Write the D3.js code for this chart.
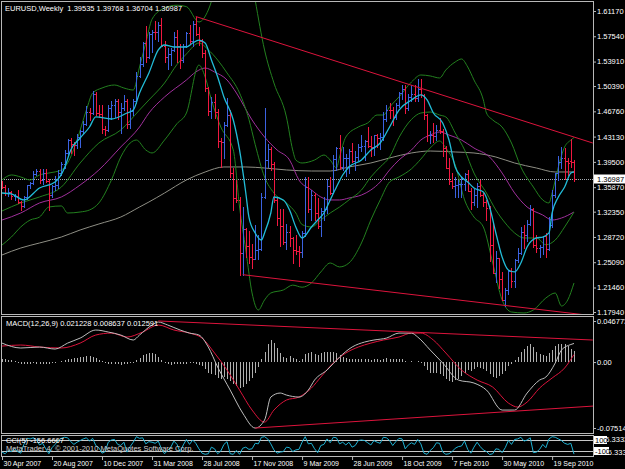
<!DOCTYPE html>
<html>
<head>
<meta charset="utf-8">
<script src="https://cdn.jsdelivr.net/npm/d3@7"></script>
<style>
html, body { margin: 0; background: #000; }
svg { display: block; font-family: "Liberation Sans", Arial, sans-serif; }
</style>
</head>
<body>
<div id="chart"></div>
<script>
var width = 625;
var height = 469;

// weekly EURUSD bars, 30 Apr 2007 .. 8 Nov 2010 (184 bars)
var opens = [1.3650,1.3590,1.3510,1.3520,1.3455,1.3465,1.3370,1.3315,1.3445,1.3620,
1.3640,1.3780,1.3820,1.3690,1.3790,1.3680,1.3480,1.3610,1.3620,1.3790,
1.3920,1.4080,1.4260,1.4200,1.4190,1.4310,1.4400,1.4500,1.4670,1.4650,
1.4920,1.4650,1.4640,1.4420,1.4410,1.4720,1.4760,1.4830,1.4660,1.4720,
1.4820,1.4500,1.4680,1.4830,1.5185,1.5360,1.5660,1.5450,1.5790,1.5820,
1.5810,1.5920,1.5620,1.5450,1.5500,1.5560,1.5750,1.5620,1.5420,1.5610,
1.5800,1.5680,1.5930,1.5790,1.5690,1.5520,1.5010,1.4680,1.4810,1.4660,
1.4250,1.4240,1.4480,1.4630,1.3790,1.3430,1.3400,1.2640,1.2980,1.2740,
1.2590,1.2560,1.2690,1.2700,1.3440,1.3970,1.4130,1.3920,1.3400,1.3140,
1.3030,1.2800,1.2950,1.2860,1.2690,1.2670,1.2660,1.2930,1.3590,1.3280,
1.3480,1.3220,1.3030,1.3240,1.3280,1.3600,1.3510,1.3990,1.4150,1.3870,
1.4000,1.4000,1.4110,1.3960,1.4020,1.4170,1.4180,1.4250,1.4180,1.4170,
1.4330,1.4300,1.4310,1.4560,1.4700,1.4690,1.4590,1.4760,1.4940,1.5000,
1.4720,1.4880,1.4930,1.4870,1.5000,1.4910,1.4620,1.4340,1.4340,1.4320,
1.4410,1.4390,1.4150,1.3860,1.3680,1.3610,1.3620,1.3630,1.3630,1.3770,
1.3530,1.3380,1.3480,1.3600,1.3480,1.3370,1.3290,1.2750,1.2360,1.2570,
1.2270,1.1970,1.2110,1.2390,1.2240,1.2540,1.2640,1.2940,1.2900,1.3060,
1.3280,1.2750,1.2710,1.2730,1.2880,1.2700,1.3050,1.3480,1.3790,1.3950,
1.4000,1.3960,1.3960,1.39535];
var highs = [1.3680,1.3615,1.3580,1.3525,1.3490,1.3550,1.3390,1.3460,1.3620,1.3660,
1.3820,1.3850,1.3850,1.3850,1.3850,1.3700,1.3620,1.3750,1.3830,1.3950,
1.4120,1.4280,1.4290,1.4230,1.4350,1.4410,1.4530,1.4750,1.4730,1.4967,
1.4960,1.4760,1.4760,1.4460,1.4760,1.4830,1.4860,1.4860,1.4790,1.4910,
1.4860,1.4720,1.4850,1.5240,1.5460,1.5670,1.5904,1.5820,1.5850,1.5970,
1.5960,1.6019,1.5690,1.5590,1.5590,1.5820,1.5840,1.5640,1.5650,1.5810,
1.5910,1.5970,1.6038,1.5890,1.5720,1.5560,1.5020,1.4880,1.4920,1.4710,
1.4290,1.4520,1.4865,1.4690,1.3860,1.3690,1.3450,1.3300,1.3000,1.2960,
1.2770,1.3040,1.2900,1.3500,1.4720,1.4200,1.4160,1.3950,1.3450,1.3280,
1.3270,1.3060,1.3030,1.2870,1.2900,1.2740,1.2960,1.3740,1.3740,1.3550,
1.3510,1.3430,1.3290,1.3440,1.3710,1.3740,1.4050,1.4170,1.4340,1.4170,
1.4060,1.4130,1.4220,1.4100,1.4210,1.4330,1.4270,1.4450,1.4320,1.4340,
1.4350,1.4360,1.4660,1.4770,1.4800,1.4740,1.4800,1.4960,1.5060,1.5060,
1.4920,1.5050,1.5060,1.5144,1.5140,1.4930,1.4640,1.4400,1.4510,1.4480,
1.4580,1.4420,1.4180,1.4010,1.3790,1.3740,1.3690,1.3740,1.3790,1.3830,
1.3570,1.3560,1.3650,1.3690,1.3500,1.3400,1.3320,1.3090,1.2670,1.2570,
1.2370,1.2140,1.2400,1.2420,1.2560,1.2720,1.3020,1.3040,1.3110,1.3330,
1.3290,1.2900,1.2760,1.2890,1.2930,1.3160,1.3550,1.3790,1.4030,1.4160,
1.4150,1.4000,1.4281,1.39768];
var lows = [1.3580,1.3480,1.3460,1.3420,1.3400,1.3360,1.3260,1.3300,1.3420,1.3570,
1.3630,1.3760,1.3640,1.3630,1.3660,1.3265,1.3440,1.3550,1.3580,1.3760,
1.3860,1.4060,1.4080,1.4050,1.4150,1.4170,1.4360,1.4480,1.4550,1.4640,
1.4620,1.4590,1.4370,1.4340,1.4400,1.4560,1.4600,1.4570,1.4365,1.4700,
1.4440,1.4440,1.4630,1.4800,1.5170,1.5330,1.5380,1.5440,1.5530,1.5710,
1.5680,1.5630,1.5380,1.5290,1.5340,1.5540,1.5380,1.5300,1.5390,1.5600,
1.5650,1.5620,1.5770,1.5630,1.5450,1.4970,1.4630,1.4580,1.4580,1.4170,
1.3880,1.4000,1.4460,1.3730,1.3260,1.3370,1.2330,1.2330,1.2590,1.2500,
1.2420,1.2550,1.2550,1.2690,1.3430,1.3870,1.3830,1.3380,1.3050,1.2740,
1.2770,1.2700,1.2740,1.2500,1.2620,1.2457,1.2580,1.2890,1.3230,1.3120,
1.3120,1.3000,1.2890,1.3110,1.3220,1.3490,1.3500,1.3830,1.3850,1.3840,
1.3750,1.3790,1.3950,1.3830,1.3970,1.4110,1.3980,1.4160,1.4040,1.4050,
1.4160,1.4140,1.4260,1.4530,1.4580,1.4480,1.4560,1.4740,1.4850,1.4650,
1.4690,1.4830,1.4830,1.4830,1.4880,1.4570,1.4250,1.4220,1.4240,1.4260,
1.4370,1.4030,1.3860,1.3630,1.3580,1.3440,1.3450,1.3440,1.3550,1.3530,
1.3270,1.3330,1.3300,1.3460,1.3310,1.3110,1.2530,1.2350,1.2230,1.2140,
1.1960,1.1876,1.2050,1.2150,1.2150,1.2510,1.2620,1.2710,1.2810,1.3050,
1.2730,1.2660,1.2590,1.2630,1.2590,1.2690,1.3020,1.3450,1.3690,1.3860,
1.3700,1.3760,1.3880,1.36704];
var closes = [1.3590,1.3510,1.3520,1.3455,1.3465,1.3370,1.3315,1.3445,1.3620,1.3640,
1.3780,1.3820,1.3690,1.3790,1.3680,1.3480,1.3610,1.3620,1.3790,1.3920,
1.4080,1.4260,1.4200,1.4190,1.4310,1.4400,1.4500,1.4670,1.4650,1.4920,
1.4650,1.4640,1.4420,1.4410,1.4720,1.4760,1.4830,1.4660,1.4720,1.4820,
1.4500,1.4680,1.4830,1.5185,1.5360,1.5660,1.5450,1.5790,1.5820,1.5810,
1.5920,1.5620,1.5450,1.5500,1.5560,1.5750,1.5620,1.5420,1.5610,1.5800,
1.5680,1.5930,1.5790,1.5690,1.5520,1.5010,1.4680,1.4810,1.4660,1.4250,
1.4240,1.4480,1.4630,1.3790,1.3430,1.3400,1.2640,1.2980,1.2740,1.2590,
1.2550,1.2690,1.2700,1.3440,1.3970,1.4130,1.3920,1.3400,1.3140,1.3030,
1.2800,1.2950,1.2860,1.2690,1.2670,1.2660,1.2930,1.3590,1.3280,1.3480,
1.3220,1.3030,1.3240,1.3280,1.3600,1.3510,1.3990,1.4150,1.3870,1.4000,
1.4000,1.4110,1.3960,1.4020,1.4170,1.4180,1.4250,1.4180,1.4170,1.4330,
1.4300,1.4310,1.4560,1.4700,1.4690,1.4590,1.4760,1.4940,1.5000,1.4720,
1.4880,1.4930,1.4870,1.5000,1.4910,1.4620,1.4340,1.4340,1.4320,1.4410,
1.4390,1.4150,1.3860,1.3680,1.3610,1.3620,1.3630,1.3630,1.3770,1.3530,
1.3380,1.3480,1.3600,1.3480,1.3370,1.3290,1.2750,1.2360,1.2570,1.2270,
1.1970,1.2110,1.2390,1.2240,1.2540,1.2640,1.2940,1.2900,1.3060,1.3280,
1.2750,1.2710,1.2730,1.2880,1.2700,1.3050,1.3480,1.3790,1.3950,1.4000,
1.3960,1.3940,1.39535,1.36987];

// indicator lines: [bar index, value]
var fastMA = [[0,1.3503],[3,1.3489],[7,1.3403],[12,1.3575],[17,1.3661],[20,1.3862],[22,1.4121],[25,1.4293],
[28,1.4451],[30,1.4595],[35,1.4566],[40,1.4652],[42,1.4695],[44,1.4939],[47,1.5227],[50,1.5557],[52,1.5629],
[55,1.5600],[59,1.5600],[61,1.5657],[63,1.5700],[65,1.5657],[67,1.5413],[69,1.5169],[71,1.4882],[74,1.4552],
[76,1.4121],[78,1.3503],[79,1.3158],[81,1.2929],[83,1.2828],[84,1.2929],[86,1.3216],[87,1.3446],[90,1.3403],
[92,1.3259],[94,1.3015],[96,1.2857],[99,1.3015],[101,1.3115],[103,1.3216],[105,1.3403],[107,1.3589],[109,1.3762],
[111,1.3877],[115,1.3977],[118,1.4121],[121,1.4221],[124,1.4451],[127,1.4695],[131,1.4839],[134,1.4911],
[136,1.4839],[138,1.4652],[141,1.4509],[143,1.4264],[145,1.3877],[147,1.3733],[149,1.3661],[151,1.3575],
[154,1.3518],[156,1.3302],[158,1.2929],[160,1.2584],[162,1.2397],[164,1.2369],[166,1.2498],[168,1.2728],
[171,1.2857],[173,1.2871],[175,1.2929],[176,1.3216],[178,1.3446],[180,1.3589],[182,1.3790],[183,1.3805]];
var bandUpper = [[0,1.3690],[3,1.3762],[6,1.3733],[9,1.3690],[12,1.3762],[15,1.3790],[19,1.3834],[21,1.3934],
[24,1.4264],[27,1.4695],[29,1.4939],[32,1.5011],[36,1.5054],[39,1.5011],[42,1.4982],[44,1.5313],[46,1.5657],
[48,1.6000],[52,1.6160],[56,1.6200],[59,1.6180],[63,1.5959],[66,1.6131],[68,1.6400],[71,1.6900],[75,1.7300],
[78,1.7100],[81,1.6275],[84,1.5557],[87,1.5083],[91,1.4595],[93,1.4121],[94,1.3977],[96,1.3934],[100,1.3977],
[103,1.4049],[105,1.3977],[107,1.3862],[108,1.4020],[110,1.4307],[114,1.4451],[117,1.4509],[120,1.4623],
[122,1.4623],[124,1.4738],[127,1.4882],[131,1.5097],[134,1.5198],[137,1.5184],[140,1.5155],[142,1.5270],
[145,1.5385],[147,1.5428],[149,1.5313],[151,1.5126],[154,1.4839],[155,1.4652],[157,1.4552],[160,1.4451],
[163,1.4221],[166,1.3877],[170,1.3589],[173,1.3403],[175,1.3360],[176,1.3503],[178,1.3877],[180,1.4164],
[182,1.4264],[183,1.4300]];
var bandMiddle = [[0,1.3245],[6,1.3360],[12,1.3446],[19,1.3589],[25,1.3934],[31,1.4221],[38,1.4408],[44,1.4695],
[47,1.4839],[52,1.5083],[56,1.5350],[59,1.5500],[63,1.5657],[66,1.5560],[69,1.5413],[72,1.5227],[76,1.4939],
[79,1.4560],[81,1.4200],[84,1.3733],[87,1.3503],[91,1.3360],[94,1.3216],[96,1.3050],[99,1.3015],[102,1.3115],
[105,1.3216],[108,1.3302],[111,1.3403],[115,1.3546],[118,1.3733],[121,1.3877],[124,1.4020],[127,1.4300],
[131,1.4560],[134,1.4652],[137,1.4666],[140,1.4623],[142,1.4595],[145,1.4365],[148,1.4121],[151,1.3790],
[155,1.3503],[158,1.3259],[161,1.3072],[164,1.2929],[167,1.2857],[171,1.2857],[174,1.2760],[177,1.2828],
[180,1.3015],[183,1.3230]];
var bandLower = [[0,1.2756],[3,1.2871],[6,1.3015],[9,1.3115],[12,1.3158],[15,1.3302],[19,1.3317],[21,1.3216],
[25,1.3230],[28,1.3259],[31,1.3360],[35,1.3690],[38,1.4020],[41,1.4221],[43,1.4264],[46,1.4121],[48,1.4078],
[52,1.4264],[56,1.4500],[59,1.4652],[63,1.5341],[65,1.5169],[67,1.4839],[70,1.4451],[74,1.4121],[76,1.3302],
[78,1.2685],[80,1.2067],[82,1.1823],[84,1.1967],[86,1.2067],[90,1.2110],[93,1.2180],[96,1.2150],[99,1.2211],
[102,1.2369],[105,1.2498],[108,1.2441],[111,1.2498],[115,1.2785],[118,1.3115],[121,1.3403],[124,1.3661],
[127,1.3733],[131,1.3850],[134,1.3990],[137,1.4150],[140,1.4250],[142,1.4150],[145,1.3905],[148,1.3403],
[151,1.3158],[154,1.3015],[157,1.2498],[160,1.1967],[163,1.1794],[167,1.1780],[170,1.1823],[174,1.1995],
[177,1.2067],[179,1.1880],[181,1.1967],[183,1.2211]];
var midMA = [[0,1.3115],[6,1.3216],[12,1.3360],[19,1.3446],[25,1.3618],[31,1.3834],[38,1.4164],[44,1.4451],
[47,1.4652],[52,1.4882],[59,1.5126],[62,1.5241],[65,1.5298],[68,1.5241],[72,1.5126],[75,1.4939],[80,1.4552],
[84,1.4307],[88,1.4121],[92,1.3977],[95,1.3690],[99,1.3546],[102,1.3446],[105,1.3403],[108,1.3403],
[111,1.3431],[115,1.3474],[118,1.3546],[121,1.3661],[124,1.3834],[127,1.3977],[131,1.4121],[134,1.4264],
[137,1.4336],[140,1.4379],[143,1.4336],[147,1.4264],[151,1.4149],[156,1.4020],[160,1.3790],[164,1.3503],
[168,1.3302],[173,1.3187],[176,1.3115],[179,1.3144],[183,1.3230]];
var slowMA = [[0,1.2613],[6,1.2713],[12,1.2785],[19,1.2871],[25,1.2972],[31,1.3058],[38,1.3158],[44,1.3302],
[47,1.3374],[52,1.3503],[59,1.3690],[65,1.3805],[71,1.3877],[78,1.3877],[84,1.3862],[91,1.3834],[99,1.3819],
[105,1.3819],[111,1.3877],[118,1.3934],[124,1.4006],[131,1.4078],[137,1.4106],[145,1.4092],[151,1.4078],
[158,1.4020],[164,1.3934],[171,1.3862],[177,1.3805],[183,1.3805]];
var trendUpper = [[62,1.6038],[189,1.4221]];
var trendLower = [[77,1.2330],[189,1.1740]];

var macdMain = [[0,0.0216],[6,0.0160],[12,0.0171],[17,0.0148],[21,0.0216],[25,0.0273],[30,0.0365],[34,0.0342],
[38,0.0308],[42,0.0251],[44,0.0308],[48,0.0422],[50,0.0456],[53,0.0422],[57,0.0365],[60,0.0330],[63,0.0308],
[66,0.0171],[69,-0.0057],[73,-0.0319],[77,-0.0581],[81,-0.0752],[84,-0.0661],[86,-0.0399],[89,-0.0353],
[91,-0.0376],[95,-0.0399],[98,-0.0319],[100,-0.0205],[104,-0.0091],[108,0.0057],[112,0.0171],[116,0.0228],
[119,0.0251],[123,0.0273],[127,0.0330],[131,0.0330],[133,0.0285],[137,0.0137],[141,-0.0011],[146,-0.0205],
[151,-0.0239],[155,-0.0319],[160,-0.0547],[164,-0.0547],[168,-0.0353],[172,-0.0205],[174,-0.0171],
[177,-0.0011],[179,0.0137],[182,0.0200],[183,0.0212]];
var macdSignal = [[0,0.0182],[6,0.0194],[12,0.0171],[19,0.0160],[25,0.0216],[30,0.0308],[35,0.0330],[40,0.0285],
[45,0.0342],[50,0.0422],[55,0.0365],[60,0.0330],[64,0.0273],[68,0.0103],[72,-0.0091],[76,-0.0319],[80,-0.0547],
[84,-0.0684],[87,-0.0547],[91,-0.0433],[95,-0.0399],[99,-0.0296],[102,-0.0171],[106,-0.0011],[110,0.0103],
[114,0.0171],[118,0.0216],[122,0.0251],[127,0.0285],[131,0.0330],[134,0.0330],[138,0.0251],[142,0.0103],
[147,-0.0091],[152,-0.0205],[157,-0.0285],[162,-0.0467],[165,-0.0513],[168,-0.0456],[172,-0.0296],
[176,-0.0182],[180,-0.0068],[183,0.0086]];
// histogram, one value per bar, in thousandths
var macdHist = [3,3,2,2,1,-1,-2,-2,-2,-2,-1,-2,-2,-2,-2,-2,-1,-1,0,1,
2,3,4,5,5,6,6,7,7,6,5,2,1,-1,-2,-2,-2,-2,-3,-2,
-2,-1,-1,2,5,8,9,10,10,9,6,2,-1,-2,-3,-2,-2,-2,-2,-2,
-1,-1,-2,-3,-5,-8,-12,-14,-15,-18,-19,-17,-19,-22,-25,-27,-30,-28,-25,-22,
-18,-12,-6,3,12,20,25,22,16,10,6,5,7,5,3,1,3,9,10,11,
9,8,10,11,12,11,12,10,8,6,5,4,3,3,3,4,4,3,2,3,
3,2,4,5,4,3,3,4,3,1,0,1,0,1,-1,-5,-9,-12,-13,-12,
-14,-16,-19,-22,-23,-21,-19,-16,-12,-9,-10,-8,-6,-7,-8,-10,-14,-17,-18,-16,
-14,-10,-5,-2,2,6,12,15,18,20,17,12,9,8,7,10,14,18,20,21,
20,18,15,12.6];
var macdTrendUpper = [[50,0.0468],[189,0.0251]];
var macdTrendLower = [[81,-0.0752],[189.4,-0.0501]];

var cci = [-120,-150,-90,-110,-60,-110,-140,20,130,120,140,110,10,40,-60,-150,-40,20,90,130,
150,140,70,20,60,90,120,140,80,130,0,-40,-140,-110,60,100,110,20,0,60,
-120,-20,60,160,130,140,30,70,60,40,80,-60,-150,-90,-30,80,20,-120,10,110,
20,100,40,-60,-140,-160,-150,-30,-60,-150,-100,20,70,-150,-160,-90,-160,-50,-30,-70,
-60,40,30,150,160,120,30,-80,-140,-120,-110,-30,-40,-110,-80,-70,60,160,30,40,
-60,-130,0,20,120,50,150,140,30,60,10,60,-30,0,90,100,90,50,10,90,
60,40,150,140,90,0,70,130,120,-60,10,50,20,110,30,-140,-160,-90,-40,50,
40,-120,-160,-150,-110,-50,-20,-10,80,-70,-140,-30,60,-20,-80,-110,-165,-150,-60,-70,
-130,-40,90,20,110,120,150,80,100,140,-130,-120,-70,20,-40,120,160,150,120,90,
40,20,40,-156.67];

var priceTicks = [1.6117,1.5754,1.5391,1.5039,1.4676,1.4313,1.3950,1.3587,1.3235,1.2872,1.2509,1.2146,1.1794];
var lastPrice = 1.36987;
var macdTicks = [0.046773, 0, -0.07514];
var macdTickLabels = ["0.046773", "0.00", "-0.07514"];
var dateTickIndex = [0,16,32,48,64,80,96,112,128,144,160,176];
var dateTickLabels = ["30 Apr 2007","20 Aug 2007","10 Dec 2007","31 Mar 2008","28 Jul 2008","17 Nov 2008",
  "9 Mar 2009","28 Jun 2009","18 Oct 2009","7 Feb 2010","30 May 2010","19 Sep 2010"];

var frameColor = "#b8b8b8";
var textColor = "#ffffff";
var upColor = "#3b62e0";
var downColor = "#f01840";

var svg = d3.select("#chart").append("svg")
  .attr("width", width)
  .attr("height", height)
  .style("background", "#000");

var x = d3.scaleLinear().domain([0, 183]).range([2, 574]);
var yPrice = d3.scaleLinear().domain([1.1794, 1.6117]).range([312, 11]);
var yMacd = d3.scaleLinear().domain([-0.07514, 0.046773]).range([428, 321]);
var yCci = d3.scaleLinear().domain([-100, 100]).range([451, 440]);

var defs = svg.append("defs");
function clip(id, y0, y1) {
  defs.append("clipPath").attr("id", id)
    .append("rect").attr("x", 2).attr("y", y0).attr("width", 591).attr("height", y1 - y0);
}
clip("clipMain", 2, 314);
clip("clipMacd", 317, 433);
clip("clipCci", 436, 456);

function drawCurve(g, data, yScale, color, w) {
  g.append("path")
    .datum(data)
    .attr("fill", "none")
    .attr("stroke", color)
    .attr("stroke-width", w || 1)
    .attr("d", d3.line()
      .x(function (d) { return x(d[0]); })
      .y(function (d) { return yScale(d[1]); })
      .curve(d3.curveMonotoneX));
}
function drawStraight(g, data, yScale, color) {
  g.append("path")
    .datum(data)
    .attr("fill", "none")
    .attr("stroke", color)
    .attr("stroke-width", 1)
    .attr("d", d3.line()
      .x(function (d) { return x(d[0]); })
      .y(function (d) { return yScale(d[1]); }));
}

// ---- main price window
var main = svg.append("g").attr("clip-path", "url(#clipMain)");

// bid line
main.append("line")
  .attr("x1", 2).attr("x2", 593)
  .attr("y1", Math.round(yPrice(lastPrice)) + 0.5)
  .attr("y2", Math.round(yPrice(lastPrice)) + 0.5)
  .attr("stroke", "#a4aab0")
  .attr("stroke-dasharray", "1,1");

drawCurve(main, slowMA, yPrice, "#8e8e84");
drawCurve(main, midMA, yPrice, "#a0309c");
drawCurve(main, bandUpper, yPrice, "#23801f");
drawCurve(main, bandMiddle, yPrice, "#23801f");
drawCurve(main, bandLower, yPrice, "#23801f");

var idx = d3.range(opens.length);
main.append("g")
  .attr("shape-rendering", "crispEdges")
  .selectAll("path")
  .data(idx)
  .join("path")
  .attr("fill", "none")
  .attr("stroke", function (i) { return closes[i] >= opens[i] ? upColor : downColor; })
  .attr("d", function (i) {
    var cx = Math.round(x(i)) + 0.5;
    var yh = Math.round(yPrice(highs[i]));
    var yl = Math.round(yPrice(lows[i])) + 1;
    var yo = Math.round(yPrice(opens[i])) + 0.5;
    var yc = Math.round(yPrice(closes[i])) + 0.5;
    return "M" + cx + "," + yh + "V" + yl +
      "M" + (cx - 1.5) + "," + yo + "H" + cx +
      "M" + cx + "," + yc + "H" + (cx + 1.5);
  });

drawCurve(main, fastMA, yPrice, "#22bcd8", 1.3);
drawStraight(main, trendUpper, yPrice, "#dc143c");
drawStraight(main, trendLower, yPrice, "#dc143c");

svg.append("text")
  .attr("x", 5).attr("y", 10.5)
  .attr("fill", textColor)
  .style("font-size", "7.5px")
  .attr("xml:space", "preserve")
  .text("EURUSD,Weekly  1.39535 1.39768 1.36704 1.36987");

// ---- MACD window
var macdG = svg.append("g").attr("clip-path", "url(#clipMacd)");
macdG.append("g")
  .attr("shape-rendering", "crispEdges")
  .selectAll("line")
  .data(idx)
  .join("line")
  .attr("x1", function (i) { return Math.round(x(i)) + 0.5; })
  .attr("x2", function (i) { return Math.round(x(i)) + 0.5; })
  .attr("y1", Math.round(yMacd(0)))
  .attr("y2", function (i) { return Math.round(yMacd(macdHist[i] / 1000)); })
  .attr("stroke", "#b0b0b0");
drawCurve(macdG, macdSignal, yMacd, "#dc143c");
drawCurve(macdG, macdMain, yMacd, "#bdbdbd");
drawStraight(macdG, macdTrendUpper, yMacd, "#dc143c");
drawStraight(macdG, macdTrendLower, yMacd, "#dc143c");

svg.append("text")
  .attr("x", 6).attr("y", 326)
  .attr("fill", textColor)
  .style("font-size", "7.5px")
  .text("MACD(12,26,9) 0.021228 0.008637 0.012591");

// ---- CCI window
var cciG = svg.append("g").attr("clip-path", "url(#clipCci)");
[100, -100].forEach(function (lv) {
  cciG.append("line")
    .attr("x1", 2).attr("x2", 593)
    .attr("y1", Math.round(yCci(lv)) + 0.5).attr("y2", Math.round(yCci(lv)) + 0.5)
    .attr("stroke", "#c8c8c8");
});
cciG.append("path")
  .datum(cci)
  .attr("fill", "none")
  .attr("stroke", "#1fb2d4")
  .attr("d", d3.line()
    .x(function (d, i) { return x(i); })
    .y(function (d) { return yCci(d); }));

svg.append("text")
  .attr("x", 6).attr("y", 443)
  .attr("fill", textColor)
  .style("font-size", "7.5px")
  .text("CCI(5) -156.6667");
svg.append("text")
  .attr("x", 6).attr("y", 451)
  .attr("fill", "#d0d0d0")
  .style("font-size", "7.5px")
  .text("MetaTrader 4, \u00a9 2001-2010 MetaQuotes Software Corp.");

// ---- frames
var frame = svg.append("g")
  .attr("stroke", frameColor)
  .attr("fill", "none")
  .attr("shape-rendering", "crispEdges");
frame.append("rect").attr("x", 1.5).attr("y", 1.5).attr("width", 592).attr("height", 313);
frame.append("rect").attr("x", 1.5).attr("y", 316.5).attr("width", 592).attr("height", 117);
frame.append("rect").attr("x", 1.5).attr("y", 435.5).attr("width", 592).attr("height", 21);

// ---- axes
function styleAxis(g) {
  g.select(".domain").remove();
  g.selectAll("line").attr("stroke", frameColor);
  g.selectAll("text")
    .attr("fill", textColor)
    .style("font-size", "7.5px")
    .style("font-family", "Liberation Sans, Arial, sans-serif");
}

svg.append("g")
  .attr("transform", "translate(593,0)")
  .call(d3.axisRight(yPrice).tickValues(priceTicks).tickFormat(d3.format(".5f")).tickSize(3).tickPadding(1))
  .call(styleAxis);

svg.append("g")
  .attr("transform", "translate(593,0)")
  .call(d3.axisRight(yMacd).tickValues(macdTicks)
    .tickFormat(function (d, i) { return macdTickLabels[i]; }).tickSize(3).tickPadding(1))
  .call(styleAxis);

// last price marker
var lp = Math.round(yPrice(lastPrice));
svg.append("rect")
  .attr("x", 594).attr("y", lp - 4.5).attr("width", 31).attr("height", 9)
  .attr("fill", "#ffffff");
svg.append("text")
  .attr("x", 597).attr("y", lp + 3)
  .attr("fill", "#000")
  .style("font-size", "7.5px")
  .text(d3.format(".5f")(lastPrice));

// CCI scale labels and level boxes
svg.append("text").attr("x", 597).attr("y", 442).attr("fill", textColor)
  .style("font-size", "7.5px").text("166.3333");
svg.append("text").attr("x", 597).attr("y", 455).attr("fill", textColor)
  .style("font-size", "7.5px").text("-166.3333");
[[100, "100"], [-100, "-100"]].forEach(function (lv) {
  var yy = Math.round(yCci(lv[0]));
  svg.append("rect").attr("x", 594).attr("y", yy - 4).attr("width", lv[0] > 0 ? 13 : 15).attr("height", 8)
    .attr("fill", "#ffffff");
  svg.append("text").attr("x", 595).attr("y", yy + 3).attr("fill", "#000")
    .style("font-size", "7.5px").text(lv[1]);
});

// date axis
var xAxisG = svg.append("g")
  .attr("transform", "translate(0,457)")
  .call(d3.axisBottom(x).tickValues(dateTickIndex)
    .tickFormat(function (d, i) { return dateTickLabels[i]; }).tickSize(3).tickPadding(1))
  .call(styleAxis);
xAxisG.selectAll("text").attr("text-anchor", "start").attr("dx", 1).style("font-size", "7px");
</script>
</body>
</html>
